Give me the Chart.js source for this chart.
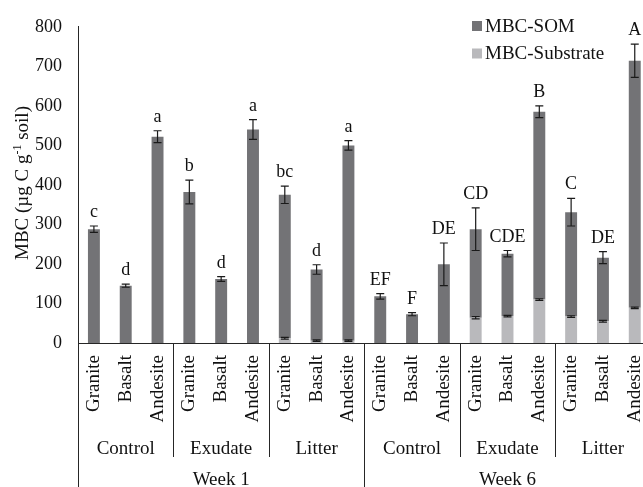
<!DOCTYPE html>
<html>
<head>
<meta charset="utf-8">
<title>Microbial biomass carbon</title>
<script src="https://cdn.jsdelivr.net/npm/chart.js@4.4.1/dist/chart.umd.min.js"></script>
<style>
  html, body { margin: 0; padding: 0; background: #fff; overflow: hidden; }
  #wrap { width: 670px; height: 487px; }
</style>
</head>
<body>
<div id="wrap"><canvas id="chart" width="670" height="487"></canvas></div>
<script>
// Rock type for each bar, grouped by treatment and sampling week
const rocks = ['Granite', 'Basalt', 'Andesite', 'Granite', 'Basalt', 'Andesite', 'Granite', 'Basalt', 'Andesite',
               'Granite', 'Basalt', 'Andesite', 'Granite', 'Basalt', 'Andesite', 'Granite', 'Basalt', 'Andesite'];
const treatments = ['Control', 'Exudate', 'Litter', 'Control', 'Exudate', 'Litter'];
const weeks = ['Week 1', 'Week 6'];

// MBC derived from the added substrate (µg C g-1 soil)
const mbcSubstrate = [0, 0, 0, 0, 0, 0, 12, 6, 6,
                      0, 0, 0, 64, 68, 110, 67, 55, 89];
// MBC derived from soil organic matter (stacked on top of substrate)
const mbcSom = [288, 145, 522, 382, 162, 540, 363, 180, 494,
                118, 73, 199, 224, 158, 475, 264, 161, 625];
// Standard errors: of the total MBC and of the substrate part
const errTotal = [8, 4, 15, 30, 6, 25, 22, 12, 12,
                  7, 4, 54, 54, 8, 15, 35, 15, 42];
const errSubstrate = [0, 0, 0, 0, 0, 0, 2, 2, 2,
                      0, 0, 0, 3, 2, 2, 2, 2, 2];
// Significance letters
const letters = ['c', 'd', 'a', 'b', 'd', 'a', 'bc', 'd', 'a',
                 'EF', 'F', 'DE', 'CD', 'CDE', 'B', 'C', 'DE', 'A'];
const yTicks = [0, 100, 200, 300, 400, 500, 600, 700, 800];

const SERIF = '"Liberation Serif", "Times New Roman", serif';
const INK = '#111';
const LINE = '#262626';

const decorations = {
  id: 'decorations',
  afterDatasetsDraw(chart) {
    const ctx = chart.ctx;
    const x = chart.scales.x;
    const y = chart.scales.y;
    const area = chart.chartArea;
    const H = chart.height;

    ctx.save();
    // error bars
    ctx.strokeStyle = '#1a1a1a';
    ctx.lineWidth = 1.2;
    const cap = 4;
    const bar = (px, lo, hi) => {
      const y1 = y.getPixelForValue(lo), y2 = y.getPixelForValue(hi);
      ctx.beginPath();
      ctx.moveTo(px, y1); ctx.lineTo(px, y2);
      ctx.moveTo(px - cap, y1); ctx.lineTo(px + cap, y1);
      ctx.moveTo(px - cap, y2); ctx.lineTo(px + cap, y2);
      ctx.stroke();
    };
    rocks.forEach((_, i) => {
      const px = x.getPixelForValue(i);
      const total = mbcSubstrate[i] + mbcSom[i];
      bar(px, total - errTotal[i], total + errTotal[i]);
      if (mbcSubstrate[i] > 0) {
        bar(px, mbcSubstrate[i] - errSubstrate[i], mbcSubstrate[i] + errSubstrate[i]);
      }
    });

    // significance letters
    ctx.fillStyle = INK;
    ctx.font = '18px ' + SERIF;
    ctx.textAlign = 'center';
    ctx.textBaseline = 'alphabetic';
    rocks.forEach((_, i) => {
      const px = x.getPixelForValue(i);
      const top = y.getPixelForValue(mbcSubstrate[i] + mbcSom[i] + errTotal[i]);
      ctx.fillText(letters[i], px, top - 9);
    });

    // group separators below the axis
    const edge = (k) => (x.getPixelForValue(k - 1) + x.getPixelForValue(k)) / 2;
    ctx.strokeStyle = LINE;
    ctx.lineWidth = 1;
    ctx.beginPath();
    const lx = Math.round(area.left) + 0.5;
    ctx.moveTo(lx, area.bottom); ctx.lineTo(lx, H);
    for (let k = 3; k < rocks.length; k += 3) {
      const ex = Math.round(edge(k)) + 0.5;
      ctx.moveTo(ex, area.bottom);
      ctx.lineTo(ex, k % 9 === 0 ? H : area.bottom + 114);
    }
    ctx.stroke();

    // treatment and week labels
    ctx.font = '19px ' + SERIF;
    ctx.fillStyle = INK;
    treatments.forEach((t, g) => {
      const cx = x.getPixelForValue(g * 3 + 1);
      ctx.fillText(t, cx, area.bottom + 111);
    });
    weeks.forEach((w, g) => {
      const cx = (x.getPixelForValue(g * 9 + 4));
      ctx.fillText(w, cx, area.bottom + 142);
    });

    // legend (SOM listed first)
    ctx.textAlign = 'left';
    ctx.textBaseline = 'middle';
    const legendItems = chart.data.datasets.slice().reverse();
    legendItems.forEach((ds, j) => {
      const cy = 26 + j * 27.5;
      ctx.fillStyle = ds.backgroundColor;
      ctx.fillRect(472, cy - 5, 10, 10);
      ctx.fillStyle = INK;
      ctx.fillText(ds.label, 485, cy + 1);
    });

    // y-axis title with superscript
    ctx.translate(28, 183);
    ctx.rotate(-Math.PI / 2);
    ctx.textBaseline = 'alphabetic';
    const mainFont = '19px ' + SERIF, supFont = '12px ' + SERIF;
    const parts = [['MBC (\u00b5g C g', mainFont, 0], ['-1', supFont, -7], [' soil)', mainFont, 0]];
    let w = 0;
    parts.forEach(p => { ctx.font = p[1]; w += ctx.measureText(p[0]).width; });
    let cx = -w / 2;
    parts.forEach(p => {
      ctx.font = p[1];
      ctx.fillText(p[0], cx, p[2]);
      cx += ctx.measureText(p[0]).width;
    });
    ctx.restore();
  }
};

new Chart(document.getElementById('chart'), {
  type: 'bar',
  data: {
    labels: rocks,
    datasets: [
      { label: 'MBC-Substrate', data: mbcSubstrate, backgroundColor: '#b9b9bc' },
      { label: 'MBC-SOM', data: mbcSom, backgroundColor: '#737376' }
    ]
  },
  options: {
    responsive: false,
    animation: false,
    devicePixelRatio: 1,
    layout: { padding: { top: 23, right: 16, bottom: 0, left: 0 } },
    datasets: { bar: { categoryPercentage: 1, barPercentage: 0.375 } },
    plugins: { legend: { display: false }, tooltip: { enabled: false } },
    scales: {
      x: {
        stacked: true,
        grid: { display: false, drawTicks: false },
        border: { display: true, color: LINE, width: 1 },
        ticks: {
          autoSkip: false, minRotation: 90, maxRotation: 90, padding: 12,
          color: INK, font: { family: SERIF, size: 19 }
        },
        afterFit: s => { s.height = 144; }
      },
      y: {
        stacked: true,
        min: 0, max: 800,
        grid: { display: false, drawTicks: false },
        border: { display: true, color: LINE, width: 1 },
        afterBuildTicks: s => { s.ticks = yTicks.map(v => ({ value: v })); },
        ticks: { padding: 16, color: INK, font: { family: SERIF, size: 18 } },
        afterFit: s => { s.width = 78; }
      }
    }
  },
  plugins: [decorations]
});
</script>
</body>
</html>
